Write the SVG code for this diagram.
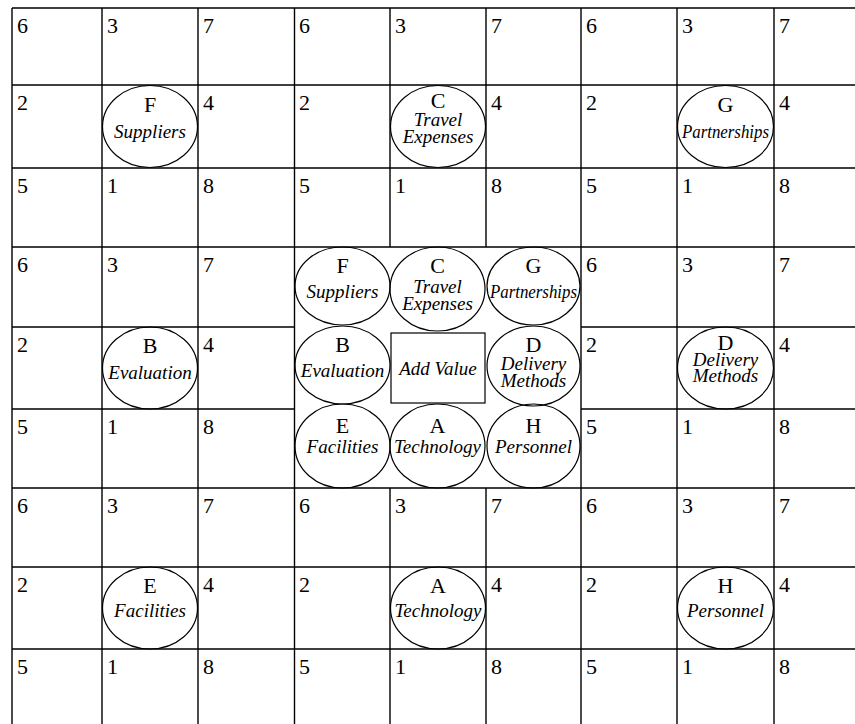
<svg xmlns="http://www.w3.org/2000/svg" width="855" height="724" viewBox="0 0 855 724">
<style>
.g{stroke:#000;stroke-width:1.4;fill:none}
.n{font-family:"Liberation Serif","Times New Roman",serif;font-size:22px;fill:#000}
.e{fill:none;stroke:#000;stroke-width:1.2}
.l{font-family:"Liberation Serif","Times New Roman",serif;font-size:22px;text-anchor:middle;fill:#000}
.t{font-family:"Liberation Serif","Times New Roman",serif;font-size:19px;font-style:italic;text-anchor:middle;fill:#000}
</style>
<rect width="855" height="724" fill="#fff"/>
<g id="grid" class="g">
<path d="M12 8H855M12 85H855M12 168H855M12 247H855M12 488H855M12 567H855M12 649H855M12 327H294.5M581 327H855M12 409H294.5M581 409H855"/>
<path d="M12 8V724M102 8V724M198 8V724M294.5 8V724M581 8V724M677 8V724M774 8V724M390 8V247M486 8V247M390 488V724M486 488V724"/>
</g>
<g id="numbers" class="n">
<text x="17" y="33">6</text><text x="107" y="33">3</text><text x="203" y="33">7</text>
<text x="299" y="33">6</text><text x="395" y="33">3</text><text x="491" y="33">7</text>
<text x="586" y="33">6</text><text x="682" y="33">3</text><text x="779" y="33">7</text>
<text x="17" y="110">2</text><text x="203" y="110">4</text>
<text x="299" y="110">2</text><text x="491" y="110">4</text>
<text x="586" y="110">2</text><text x="779" y="110">4</text>
<text x="17" y="193">5</text><text x="107" y="193">1</text><text x="203" y="193">8</text>
<text x="299" y="193">5</text><text x="395" y="193">1</text><text x="491" y="193">8</text>
<text x="586" y="193">5</text><text x="682" y="193">1</text><text x="779" y="193">8</text>
<text x="17" y="272">6</text><text x="107" y="272">3</text><text x="203" y="272">7</text>
<text x="586" y="272">6</text><text x="682" y="272">3</text><text x="779" y="272">7</text>
<text x="17" y="352">2</text><text x="203" y="352">4</text>
<text x="586" y="352">2</text><text x="779" y="352">4</text>
<text x="17" y="434">5</text><text x="107" y="434">1</text><text x="203" y="434">8</text>
<text x="586" y="434">5</text><text x="682" y="434">1</text><text x="779" y="434">8</text>
<text x="17" y="513">6</text><text x="107" y="513">3</text><text x="203" y="513">7</text>
<text x="299" y="513">6</text><text x="395" y="513">3</text><text x="491" y="513">7</text>
<text x="586" y="513">6</text><text x="682" y="513">3</text><text x="779" y="513">7</text>
<text x="17" y="592">2</text><text x="203" y="592">4</text>
<text x="299" y="592">2</text><text x="491" y="592">4</text>
<text x="586" y="592">2</text><text x="779" y="592">4</text>
<text x="17" y="674">5</text><text x="107" y="674">1</text><text x="203" y="674">8</text>
<text x="299" y="674">5</text><text x="395" y="674">1</text><text x="491" y="674">8</text>
<text x="586" y="674">5</text><text x="682" y="674">1</text><text x="779" y="674">8</text>
</g>
<g id="outer-F"><ellipse class="e" cx="150" cy="126.5" rx="47.5" ry="41"/><text class="l" x="150" y="112">F</text><text class="t" x="150" y="138">Suppliers</text></g>
<g id="outer-C"><ellipse class="e" cx="438" cy="126.5" rx="47.5" ry="41"/><text class="l" x="438" y="108">C</text><text class="t" x="438" y="126">Travel</text><text class="t" x="438" y="143">Expenses</text></g>
<g id="outer-G"><ellipse class="e" cx="725.5" cy="126.5" rx="48" ry="41"/><text class="l" x="725.5" y="112">G</text><text class="t" x="725.5" y="138" textLength="87" lengthAdjust="spacingAndGlyphs">Partnerships</text></g>
<g id="outer-B"><ellipse class="e" cx="150" cy="368" rx="47.5" ry="41"/><text class="l" x="150" y="353">B</text><text class="t" x="150" y="379">Evaluation</text></g>
<g id="outer-D"><ellipse class="e" cx="725.5" cy="368" rx="48" ry="41"/><text class="l" x="725.5" y="350">D</text><text class="t" x="725.5" y="366">Delivery</text><text class="t" x="725.5" y="382">Methods</text></g>
<g id="outer-E"><ellipse class="e" cx="150" cy="608" rx="47.5" ry="41"/><text class="l" x="150" y="593">E</text><text class="t" x="150" y="617">Facilities</text></g>
<g id="outer-A"><ellipse class="e" cx="438" cy="608" rx="47.5" ry="41"/><text class="l" x="438" y="593">A</text><text class="t" x="438" y="617">Technology</text></g>
<g id="outer-H"><ellipse class="e" cx="725.5" cy="608" rx="48" ry="41"/><text class="l" x="725.5" y="593">H</text><text class="t" x="725.5" y="617">Personnel</text></g>
<g id="center-F"><ellipse class="e" cx="342.5" cy="286" rx="47.5" ry="39"/><text class="l" x="342.5" y="273">F</text><text class="t" x="342.5" y="298">Suppliers</text></g>
<g id="center-C"><ellipse class="e" cx="437.5" cy="289" rx="47.5" ry="42"/><text class="l" x="437.5" y="273">C</text><text class="t" x="437.5" y="293">Travel</text><text class="t" x="437.5" y="310">Expenses</text></g>
<g id="center-G"><ellipse class="e" cx="533.5" cy="286" rx="46.5" ry="39"/><text class="l" x="533.5" y="273">G</text><text class="t" x="533.5" y="298" textLength="87" lengthAdjust="spacingAndGlyphs">Partnerships</text></g>
<g id="center-B"><ellipse class="e" cx="342.5" cy="365" rx="47.5" ry="39"/><text class="l" x="342.5" y="352">B</text><text class="t" x="342.5" y="377">Evaluation</text></g>
<g id="center-AddValue"><rect class="e" x="391" y="333" width="94" height="70"/><text class="t" x="438" y="375">Add Value</text></g>
<g id="center-D"><ellipse class="e" cx="533.5" cy="366" rx="46.5" ry="40"/><text class="l" x="533.5" y="352">D</text><text class="t" x="533.5" y="370">Delivery</text><text class="t" x="533.5" y="387">Methods</text></g>
<g id="center-E"><ellipse class="e" cx="342.5" cy="446" rx="47.5" ry="42"/><text class="l" x="342.5" y="433">E</text><text class="t" x="342.5" y="453">Facilities</text></g>
<g id="center-A"><ellipse class="e" cx="437.5" cy="446" rx="47.5" ry="42"/><text class="l" x="437.5" y="433">A</text><text class="t" x="437.5" y="453">Technology</text></g>
<g id="center-H"><ellipse class="e" cx="533.5" cy="446" rx="46.5" ry="42"/><text class="l" x="533.5" y="433">H</text><text class="t" x="533.5" y="453">Personnel</text></g>
</svg>
